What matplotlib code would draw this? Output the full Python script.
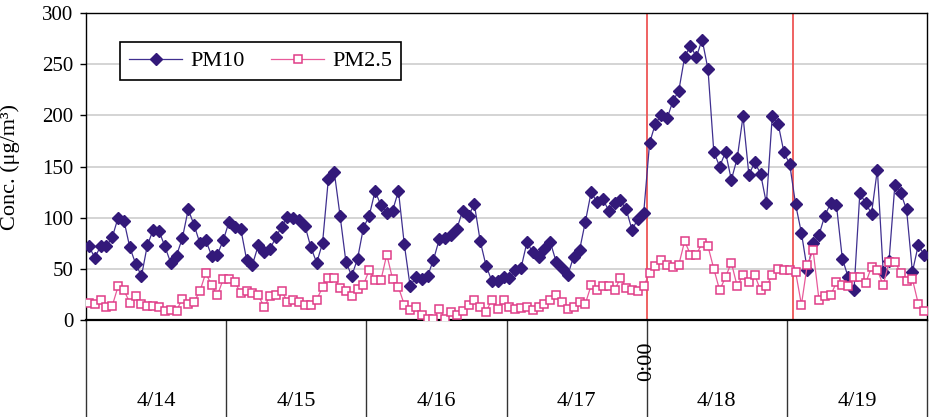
from matplotlib import pyplot as plt
from matplotlib import transforms

plt.rcParams['font.family'] = ['Liberation Serif', 'DejaVu Serif']

# Hourly concentrations, 24 values per day (4/14 - 4/19)
days = ['4/14', '4/15', '4/16', '4/17', '4/18', '4/19']
pm10 = [
    72, 61, 72, 72, 81, 100, 97, 71, 55, 43, 73, 88, 87, 72, 56, 63, 80, 108, 93, 75, 78, 63, 64, 78,
    96, 91, 89, 59, 54, 73, 66, 69, 81, 91, 101, 100, 98, 92, 71, 56, 75, 138, 145, 102, 57, 43, 60, 90,
    102, 126, 112, 105, 107, 126, 74, 33, 42, 40, 43, 59, 79, 80, 83, 89, 107, 102, 113, 77, 53, 38, 38, 42,
    41, 49, 51, 76, 66, 62, 69, 76, 57, 51, 44, 62, 68, 96, 125, 115, 118, 107, 114, 117, 108, 88, 99, 105,
    173, 192, 200, 197, 214, 224, 257, 268, 257, 274, 245, 164, 150, 164, 137, 158, 199, 142, 154, 143, 114, 199, 192, 164,
    152, 113, 85, 49, 75, 83, 102, 114, 112, 60, 42, 29, 124, 114, 104, 147, 47, 58, 132, 124, 108, 47, 73, 64,
]
pm25 = [
    17, 16, 20, 13, 14, 33, 29, 17, 23, 16, 14, 14, 13, 9, 10, 9, 21, 16, 18, 28, 46, 34, 24, 40,
    40, 37, 26, 28, 26, 24, 13, 23, 24, 28, 18, 20, 18, 15, 15, 20, 32, 41, 41, 31, 28, 23, 30, 34,
    49, 39, 39, 64, 40, 32, 15, 10, 13, 5, 1, 1, 11, 1, 8, 5, 9, 15, 20, 13, 8, 20, 11, 20,
    13, 11, 12, 13, 10, 13, 16, 20, 24, 18, 11, 13, 18, 16, 34, 29, 33, 33, 29, 41, 31, 29, 28, 33,
    46, 53, 59, 54, 52, 54, 77, 64, 64, 75, 72, 50, 29, 42, 56, 33, 44, 37, 44, 29, 33, 44, 50, 49,
    49, 47, 15, 54, 68, 20, 23, 24, 37, 34, 33, 42, 42, 36, 52, 49, 34, 57, 57, 46, 38, 40, 16, 9,
]
# event markers (hour index)
event_hours = [95.5, 120.5]

hours = range(len(pm10))

fig = plt.figure(figsize=(9.38, 4.17), dpi=100)
ax = fig.add_axes([86 / 938, 97 / 417, 841 / 938, 307 / 417])

# Grid
for y in range(50, 301, 50):
    ax.axhline(y, color='#d4d4d4', lw=1.4, zorder=0)

ax.plot(hours, pm10, color='#3f2f8f', lw=0.9, marker='D', ms=6.3,
        mfc='#33197a', mec='#33197a', label='PM10', zorder=3)
ax.plot(hours, pm25, color='#e85a9a', lw=0.9, marker='s', ms=6.3,
        mfc='white', mec='#e03d88', mew=1.1, label='PM2.5', zorder=4)

for h in event_hours:
    ax.axvline(h, color='#ee5555', lw=1.3, zorder=2)

ax.set_xlim(-0.5, len(pm10) - 0.5)
ax.set_ylim(0, 300)
ax.set_yticks(range(0, 301, 50))
ax.set_xticks([])
ax.tick_params(axis='y', direction='out', length=4, width=1, pad=5, labelsize=15)
for s in ax.spines.values():
    s.set_linewidth(1)
ax.spines['bottom'].set_linewidth(1.6)

ax.set_ylabel('Conc. (μg/m³)', fontsize=16)
ax.yaxis.set_label_coords(-0.078, 0.5)

# Category boxes below the axis
trans = transforms.blended_transform_factory(ax.transData, ax.transAxes)
for i in range(len(days) + 1):
    x = i * 24 - 0.5
    ax.plot([x, x], [0, -0.32], transform=trans, clip_on=False, color='#333333', lw=1)
for i, d in enumerate(days):
    ax.text(i * 24 + 11.5, -0.265, d, transform=trans, ha='center', va='center', fontsize=16)
ax.text(95.5, -0.134, '0:00', transform=trans, ha='center', va='center',
        rotation=90, fontsize=16)

leg = ax.legend(loc='upper left', bbox_to_anchor=(0.0404, 0.906), borderaxespad=0,
                ncol=2, fontsize=16, fancybox=False, framealpha=1, edgecolor='black',
                handlelength=2.4, handletextpad=0.35, columnspacing=1.2)
leg.get_frame().set_linewidth(1.2)

fig.savefig('out.png', dpi=100)
